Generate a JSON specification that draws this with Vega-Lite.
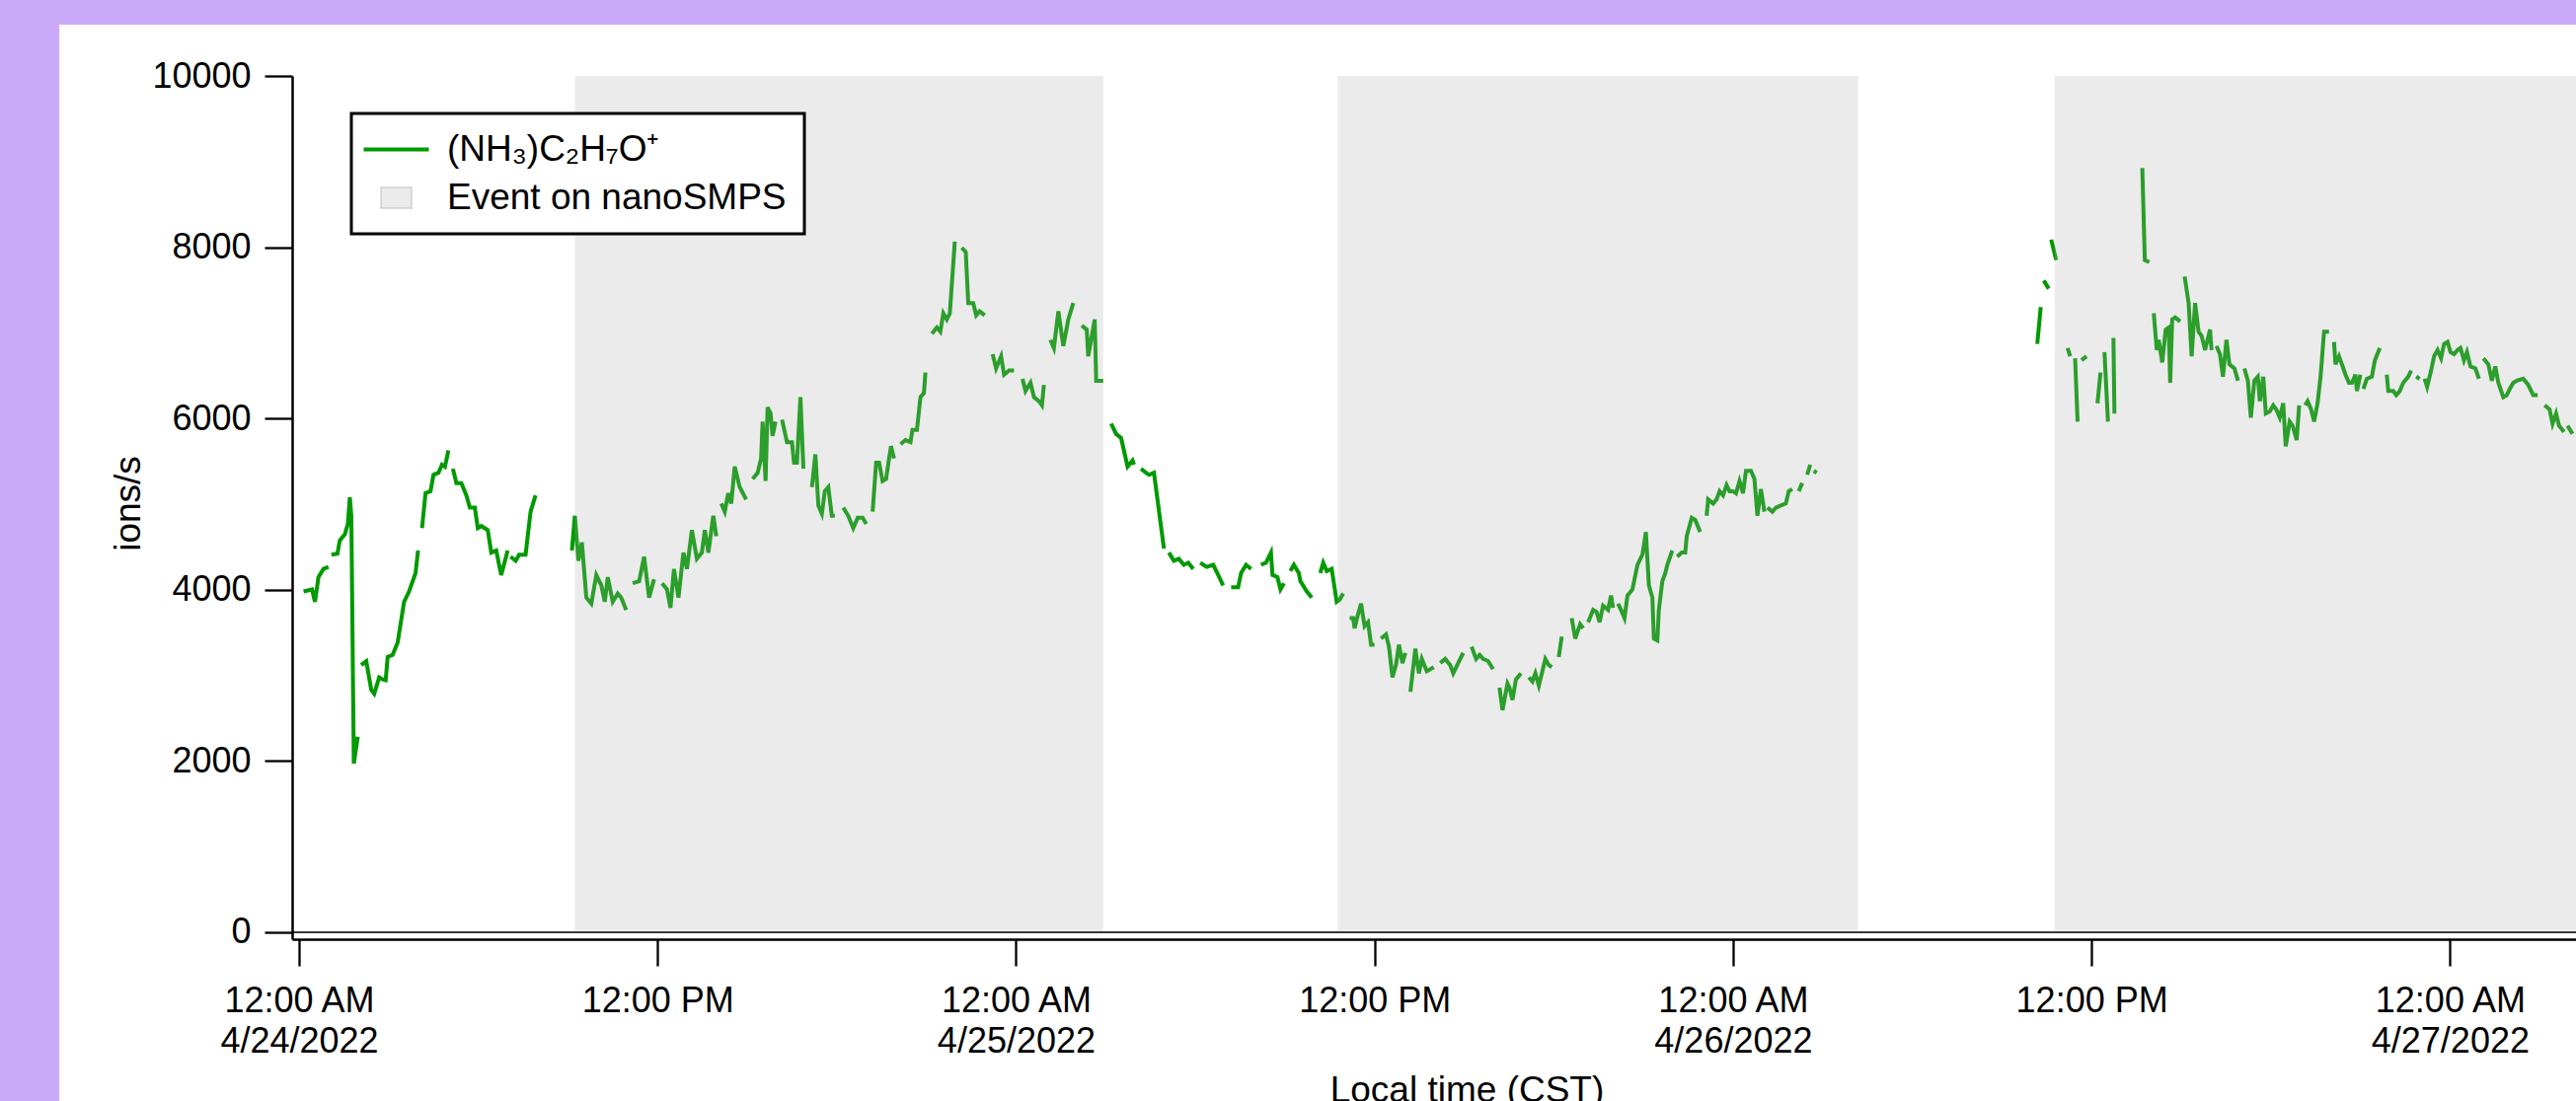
{
  "$schema": "https://vega.github.io/schema/vega-lite/v6.json",
  "background": "#cba9f9",
  "autosize": {"type": "none"},
  "padding": {"left": 296, "top": 77, "right": 0, "bottom": 164},
  "width": 2314,
  "height": 875,
  "datasets": {
    "events": [
      {"start": "2022-04-24T09:14", "end": "2022-04-25T02:55"},
      {"start": "2022-04-25T10:46", "end": "2022-04-26T04:11"},
      {"start": "2022-04-26T10:46", "end": "2022-04-27T12:00"}
    ],
    "ions": [
      {"t": "2022-04-24T00:09", "v": 3980, "g": 1},
      {"t": "2022-04-24T00:26", "v": 4004, "g": 1},
      {"t": "2022-04-24T00:32", "v": 3860, "g": 1},
      {"t": "2022-04-24T00:39", "v": 4147, "g": 1},
      {"t": "2022-04-24T00:49", "v": 4243, "g": 1},
      {"t": "2022-04-24T00:59", "v": 4267, "g": 1},
      {"t": "2022-04-24T01:05", "v": 4410, "g": 2},
      {"t": "2022-04-24T01:17", "v": 4420, "g": 2},
      {"t": "2022-04-24T01:22", "v": 4577, "g": 2},
      {"t": "2022-04-24T01:32", "v": 4649, "g": 2},
      {"t": "2022-04-24T01:38", "v": 4768, "g": 2},
      {"t": "2022-04-24T01:42", "v": 5079, "g": 2},
      {"t": "2022-04-24T01:45", "v": 4864, "g": 2},
      {"t": "2022-04-24T01:50", "v": 1971, "g": 2},
      {"t": "2022-04-24T01:58", "v": 2284, "g": 2},
      {"t": "2022-04-24T02:05", "v": 3120, "g": 3},
      {"t": "2022-04-24T02:15", "v": 3167, "g": 3},
      {"t": "2022-04-24T02:25", "v": 2833, "g": 3},
      {"t": "2022-04-24T02:31", "v": 2786, "g": 3},
      {"t": "2022-04-24T02:41", "v": 2977, "g": 3},
      {"t": "2022-04-24T02:48", "v": 2953, "g": 3},
      {"t": "2022-04-24T02:54", "v": 2943, "g": 3},
      {"t": "2022-04-24T02:58", "v": 3215, "g": 3},
      {"t": "2022-04-24T03:08", "v": 3239, "g": 3},
      {"t": "2022-04-24T03:18", "v": 3383, "g": 3},
      {"t": "2022-04-24T03:31", "v": 3860, "g": 3},
      {"t": "2022-04-24T03:41", "v": 3980, "g": 3},
      {"t": "2022-04-24T03:54", "v": 4195, "g": 3},
      {"t": "2022-04-24T03:59", "v": 4458, "g": 3},
      {"t": "2022-04-24T04:07", "v": 4720, "g": 4},
      {"t": "2022-04-24T04:14", "v": 5127, "g": 4},
      {"t": "2022-04-24T04:24", "v": 5150, "g": 4},
      {"t": "2022-04-24T04:30", "v": 5342, "g": 4},
      {"t": "2022-04-24T04:40", "v": 5366, "g": 4},
      {"t": "2022-04-24T04:47", "v": 5461, "g": 4},
      {"t": "2022-04-24T04:53", "v": 5437, "g": 4},
      {"t": "2022-04-24T05:00", "v": 5628, "g": 4},
      {"t": "2022-04-24T05:09", "v": 5413, "g": 5},
      {"t": "2022-04-24T05:16", "v": 5246, "g": 5},
      {"t": "2022-04-24T05:26", "v": 5246, "g": 5},
      {"t": "2022-04-24T05:36", "v": 5103, "g": 5},
      {"t": "2022-04-24T05:43", "v": 4959, "g": 5},
      {"t": "2022-04-24T05:53", "v": 4959, "g": 5},
      {"t": "2022-04-24T05:59", "v": 4720, "g": 5},
      {"t": "2022-04-24T06:06", "v": 4744, "g": 5},
      {"t": "2022-04-24T06:19", "v": 4697, "g": 5},
      {"t": "2022-04-24T06:26", "v": 4434, "g": 5},
      {"t": "2022-04-24T06:36", "v": 4458, "g": 5},
      {"t": "2022-04-24T06:46", "v": 4171, "g": 5},
      {"t": "2022-04-24T06:59", "v": 4458, "g": 5},
      {"t": "2022-04-24T07:05", "v": 4386, "g": 6},
      {"t": "2022-04-24T07:15", "v": 4338, "g": 6},
      {"t": "2022-04-24T07:22", "v": 4410, "g": 6},
      {"t": "2022-04-24T07:35", "v": 4410, "g": 6},
      {"t": "2022-04-24T07:45", "v": 4912, "g": 6},
      {"t": "2022-04-24T07:55", "v": 5103, "g": 6},
      {"t": "2022-04-24T09:08", "v": 4458, "g": 7},
      {"t": "2022-04-24T09:14", "v": 4864, "g": 7},
      {"t": "2022-04-24T09:21", "v": 4338, "g": 7},
      {"t": "2022-04-24T09:28", "v": 4553, "g": 7},
      {"t": "2022-04-24T09:37", "v": 3908, "g": 7},
      {"t": "2022-04-24T09:47", "v": 3837, "g": 7},
      {"t": "2022-04-24T09:57", "v": 4171, "g": 7},
      {"t": "2022-04-24T10:07", "v": 4052, "g": 7},
      {"t": "2022-04-24T10:14", "v": 3860, "g": 7},
      {"t": "2022-04-24T10:20", "v": 4147, "g": 7},
      {"t": "2022-04-24T10:30", "v": 3860, "g": 7},
      {"t": "2022-04-24T10:40", "v": 3956, "g": 7},
      {"t": "2022-04-24T10:47", "v": 3908, "g": 7},
      {"t": "2022-04-24T10:57", "v": 3765, "g": 7},
      {"t": "2022-04-24T11:10", "v": 4076, "g": 8},
      {"t": "2022-04-24T11:23", "v": 4100, "g": 8},
      {"t": "2022-04-24T11:33", "v": 4386, "g": 8},
      {"t": "2022-04-24T11:43", "v": 3908, "g": 8},
      {"t": "2022-04-24T11:53", "v": 4123, "g": 8},
      {"t": "2022-04-24T12:09", "v": 4076, "g": 9},
      {"t": "2022-04-24T12:19", "v": 4004, "g": 9},
      {"t": "2022-04-24T12:26", "v": 3789, "g": 9},
      {"t": "2022-04-24T12:33", "v": 4243, "g": 9},
      {"t": "2022-04-24T12:42", "v": 3908, "g": 9},
      {"t": "2022-04-24T12:52", "v": 4434, "g": 9},
      {"t": "2022-04-24T12:59", "v": 4243, "g": 9},
      {"t": "2022-04-24T13:09", "v": 4697, "g": 9},
      {"t": "2022-04-24T13:19", "v": 4362, "g": 9},
      {"t": "2022-04-24T13:29", "v": 4434, "g": 9},
      {"t": "2022-04-24T13:35", "v": 4697, "g": 9},
      {"t": "2022-04-24T13:42", "v": 4434, "g": 9},
      {"t": "2022-04-24T13:52", "v": 4864, "g": 9},
      {"t": "2022-04-24T13:58", "v": 4625, "g": 9},
      {"t": "2022-04-24T14:08", "v": 5007, "g": 10},
      {"t": "2022-04-24T14:15", "v": 4912, "g": 10},
      {"t": "2022-04-24T14:22", "v": 5127, "g": 10},
      {"t": "2022-04-24T14:28", "v": 5007, "g": 10},
      {"t": "2022-04-24T14:35", "v": 5437, "g": 10},
      {"t": "2022-04-24T14:45", "v": 5198, "g": 10},
      {"t": "2022-04-24T14:58", "v": 5055, "g": 10},
      {"t": "2022-04-24T15:11", "v": 5294, "g": 11},
      {"t": "2022-04-24T15:21", "v": 5366, "g": 11},
      {"t": "2022-04-24T15:28", "v": 5533, "g": 11},
      {"t": "2022-04-24T15:31", "v": 5963, "g": 11},
      {"t": "2022-04-24T15:37", "v": 5270, "g": 11},
      {"t": "2022-04-24T15:41", "v": 6130, "g": 11},
      {"t": "2022-04-24T15:47", "v": 6058, "g": 11},
      {"t": "2022-04-24T15:51", "v": 5796, "g": 11},
      {"t": "2022-04-24T15:57", "v": 5963, "g": 11},
      {"t": "2022-04-24T16:10", "v": 5987, "g": 12},
      {"t": "2022-04-24T16:20", "v": 5724, "g": 12},
      {"t": "2022-04-24T16:30", "v": 5724, "g": 12},
      {"t": "2022-04-24T16:34", "v": 5485, "g": 12},
      {"t": "2022-04-24T16:40", "v": 5485, "g": 12},
      {"t": "2022-04-24T16:47", "v": 6249, "g": 12},
      {"t": "2022-04-24T16:53", "v": 5413, "g": 12},
      {"t": "2022-04-24T17:10", "v": 5198, "g": 13},
      {"t": "2022-04-24T17:17", "v": 5581, "g": 13},
      {"t": "2022-04-24T17:23", "v": 4983, "g": 13},
      {"t": "2022-04-24T17:30", "v": 4888, "g": 13},
      {"t": "2022-04-24T17:36", "v": 5150, "g": 13},
      {"t": "2022-04-24T17:43", "v": 5198, "g": 13},
      {"t": "2022-04-24T17:50", "v": 4864, "g": 13},
      {"t": "2022-04-24T17:56", "v": 4864, "g": 13},
      {"t": "2022-04-24T18:13", "v": 4959, "g": 14},
      {"t": "2022-04-24T18:23", "v": 4864, "g": 14},
      {"t": "2022-04-24T18:33", "v": 4720, "g": 14},
      {"t": "2022-04-24T18:42", "v": 4840, "g": 14},
      {"t": "2022-04-24T18:52", "v": 4840, "g": 14},
      {"t": "2022-04-24T18:59", "v": 4768, "g": 14},
      {"t": "2022-04-24T19:12", "v": 4912, "g": 15},
      {"t": "2022-04-24T19:19", "v": 5485, "g": 15},
      {"t": "2022-04-24T19:25", "v": 5485, "g": 15},
      {"t": "2022-04-24T19:32", "v": 5270, "g": 15},
      {"t": "2022-04-24T19:39", "v": 5294, "g": 15},
      {"t": "2022-04-24T19:45", "v": 5533, "g": 15},
      {"t": "2022-04-24T19:49", "v": 5676, "g": 15},
      {"t": "2022-04-24T19:55", "v": 5533, "g": 15},
      {"t": "2022-04-24T20:08", "v": 5700, "g": 16},
      {"t": "2022-04-24T20:18", "v": 5748, "g": 16},
      {"t": "2022-04-24T20:28", "v": 5724, "g": 16},
      {"t": "2022-04-24T20:32", "v": 5867, "g": 16},
      {"t": "2022-04-24T20:41", "v": 5867, "g": 16},
      {"t": "2022-04-24T20:48", "v": 6249, "g": 16},
      {"t": "2022-04-24T20:55", "v": 6297, "g": 16},
      {"t": "2022-04-24T20:58", "v": 6536, "g": 16},
      {"t": "2022-04-24T21:11", "v": 6990, "g": 17},
      {"t": "2022-04-24T21:21", "v": 7062, "g": 17},
      {"t": "2022-04-24T21:28", "v": 7014, "g": 17},
      {"t": "2022-04-24T21:34", "v": 7229, "g": 17},
      {"t": "2022-04-24T21:41", "v": 7157, "g": 17},
      {"t": "2022-04-24T21:47", "v": 7229, "g": 17},
      {"t": "2022-04-24T21:57", "v": 8065, "g": 17},
      {"t": "2022-04-24T22:11", "v": 7993, "g": 18},
      {"t": "2022-04-24T22:19", "v": 7946, "g": 18},
      {"t": "2022-04-24T22:24", "v": 7348, "g": 18},
      {"t": "2022-04-24T22:34", "v": 7348, "g": 18},
      {"t": "2022-04-24T22:40", "v": 7205, "g": 18},
      {"t": "2022-04-24T22:47", "v": 7253, "g": 18},
      {"t": "2022-04-24T22:57", "v": 7205, "g": 18},
      {"t": "2022-04-24T23:13", "v": 6751, "g": 19},
      {"t": "2022-04-24T23:20", "v": 6584, "g": 19},
      {"t": "2022-04-24T23:30", "v": 6727, "g": 19},
      {"t": "2022-04-24T23:36", "v": 6512, "g": 19},
      {"t": "2022-04-24T23:46", "v": 6560, "g": 19},
      {"t": "2022-04-24T23:56", "v": 6560, "g": 19},
      {"t": "2022-04-25T00:13", "v": 6464, "g": 20},
      {"t": "2022-04-25T00:19", "v": 6321, "g": 20},
      {"t": "2022-04-25T00:29", "v": 6417, "g": 20},
      {"t": "2022-04-25T00:36", "v": 6249, "g": 20},
      {"t": "2022-04-25T00:46", "v": 6202, "g": 20},
      {"t": "2022-04-25T00:52", "v": 6154, "g": 20},
      {"t": "2022-04-25T00:56", "v": 6393, "g": 20},
      {"t": "2022-04-25T01:09", "v": 6918, "g": 21},
      {"t": "2022-04-25T01:16", "v": 6823, "g": 21},
      {"t": "2022-04-25T01:25", "v": 7253, "g": 21},
      {"t": "2022-04-25T01:35", "v": 6847, "g": 21},
      {"t": "2022-04-25T01:45", "v": 7157, "g": 21},
      {"t": "2022-04-25T01:55", "v": 7348, "g": 21},
      {"t": "2022-04-25T02:12", "v": 7086, "g": 22},
      {"t": "2022-04-25T02:22", "v": 7038, "g": 22},
      {"t": "2022-04-25T02:25", "v": 6727, "g": 22},
      {"t": "2022-04-25T02:38", "v": 7157, "g": 22},
      {"t": "2022-04-25T02:41", "v": 6440, "g": 22},
      {"t": "2022-04-25T02:55", "v": 6440, "g": 22},
      {"t": "2022-04-25T03:11", "v": 5939, "g": 23},
      {"t": "2022-04-25T03:21", "v": 5819, "g": 23},
      {"t": "2022-04-25T03:31", "v": 5772, "g": 23},
      {"t": "2022-04-25T03:44", "v": 5437, "g": 23},
      {"t": "2022-04-25T03:54", "v": 5509, "g": 23},
      {"t": "2022-04-25T03:57", "v": 5461, "g": 23},
      {"t": "2022-04-25T04:11", "v": 5413, "g": 24},
      {"t": "2022-04-25T04:21", "v": 5366, "g": 24},
      {"t": "2022-04-25T04:27", "v": 5342, "g": 24},
      {"t": "2022-04-25T04:37", "v": 5366, "g": 24},
      {"t": "2022-04-25T04:57", "v": 4482, "g": 24},
      {"t": "2022-04-25T05:07", "v": 4434, "g": 25},
      {"t": "2022-04-25T05:17", "v": 4338, "g": 25},
      {"t": "2022-04-25T05:27", "v": 4362, "g": 25},
      {"t": "2022-04-25T05:37", "v": 4291, "g": 25},
      {"t": "2022-04-25T05:46", "v": 4315, "g": 25},
      {"t": "2022-04-25T05:56", "v": 4243, "g": 25},
      {"t": "2022-04-25T06:10", "v": 4315, "g": 26},
      {"t": "2022-04-25T06:23", "v": 4267, "g": 26},
      {"t": "2022-04-25T06:36", "v": 4291, "g": 26},
      {"t": "2022-04-25T06:46", "v": 4171, "g": 26},
      {"t": "2022-04-25T06:56", "v": 4052, "g": 26},
      {"t": "2022-04-25T07:12", "v": 4028, "g": 27},
      {"t": "2022-04-25T07:26", "v": 4028, "g": 27},
      {"t": "2022-04-25T07:32", "v": 4195, "g": 27},
      {"t": "2022-04-25T07:42", "v": 4291, "g": 27},
      {"t": "2022-04-25T07:52", "v": 4243, "g": 27},
      {"t": "2022-04-25T08:12", "v": 4291, "g": 28},
      {"t": "2022-04-25T08:22", "v": 4315, "g": 28},
      {"t": "2022-04-25T08:32", "v": 4434, "g": 28},
      {"t": "2022-04-25T08:35", "v": 4171, "g": 28},
      {"t": "2022-04-25T08:45", "v": 4147, "g": 28},
      {"t": "2022-04-25T08:51", "v": 4004, "g": 28},
      {"t": "2022-04-25T08:58", "v": 4076, "g": 28},
      {"t": "2022-04-25T09:11", "v": 4219, "g": 29},
      {"t": "2022-04-25T09:18", "v": 4291, "g": 29},
      {"t": "2022-04-25T09:28", "v": 4195, "g": 29},
      {"t": "2022-04-25T09:31", "v": 4100, "g": 29},
      {"t": "2022-04-25T09:44", "v": 3980, "g": 29},
      {"t": "2022-04-25T09:54", "v": 3908, "g": 29},
      {"t": "2022-04-25T10:11", "v": 4195, "g": 30},
      {"t": "2022-04-25T10:17", "v": 4315, "g": 30},
      {"t": "2022-04-25T10:24", "v": 4219, "g": 30},
      {"t": "2022-04-25T10:34", "v": 4243, "g": 30},
      {"t": "2022-04-25T10:44", "v": 3860, "g": 30},
      {"t": "2022-04-25T10:50", "v": 3884, "g": 30},
      {"t": "2022-04-25T10:57", "v": 3956, "g": 30},
      {"t": "2022-04-25T11:10", "v": 3669, "g": 31},
      {"t": "2022-04-25T11:17", "v": 3669, "g": 31},
      {"t": "2022-04-25T11:20", "v": 3550, "g": 31},
      {"t": "2022-04-25T11:27", "v": 3717, "g": 31},
      {"t": "2022-04-25T11:33", "v": 3837, "g": 31},
      {"t": "2022-04-25T11:40", "v": 3574, "g": 31},
      {"t": "2022-04-25T11:47", "v": 3621, "g": 31},
      {"t": "2022-04-25T11:53", "v": 3359, "g": 31},
      {"t": "2022-04-25T12:00", "v": 3359, "g": 31},
      {"t": "2022-04-25T12:13", "v": 3430, "g": 32},
      {"t": "2022-04-25T12:23", "v": 3478, "g": 32},
      {"t": "2022-04-25T12:29", "v": 3335, "g": 32},
      {"t": "2022-04-25T12:36", "v": 2977, "g": 32},
      {"t": "2022-04-25T12:43", "v": 3120, "g": 32},
      {"t": "2022-04-25T12:49", "v": 3359, "g": 32},
      {"t": "2022-04-25T12:56", "v": 3144, "g": 32},
      {"t": "2022-04-25T13:02", "v": 3263, "g": 32},
      {"t": "2022-04-25T13:12", "v": 2809, "g": 33},
      {"t": "2022-04-25T13:22", "v": 3311, "g": 33},
      {"t": "2022-04-25T13:29", "v": 3024, "g": 33},
      {"t": "2022-04-25T13:35", "v": 3192, "g": 33},
      {"t": "2022-04-25T13:45", "v": 3048, "g": 33},
      {"t": "2022-04-25T13:59", "v": 3096, "g": 33},
      {"t": "2022-04-25T14:12", "v": 3144, "g": 34},
      {"t": "2022-04-25T14:22", "v": 3192, "g": 34},
      {"t": "2022-04-25T14:32", "v": 3120, "g": 34},
      {"t": "2022-04-25T14:38", "v": 3024, "g": 34},
      {"t": "2022-04-25T14:48", "v": 3144, "g": 34},
      {"t": "2022-04-25T14:58", "v": 3263, "g": 34},
      {"t": "2022-04-25T15:15", "v": 3335, "g": 35},
      {"t": "2022-04-25T15:21", "v": 3239, "g": 35},
      {"t": "2022-04-25T15:24", "v": 3192, "g": 35},
      {"t": "2022-04-25T15:31", "v": 3239, "g": 35},
      {"t": "2022-04-25T15:38", "v": 3192, "g": 35},
      {"t": "2022-04-25T15:48", "v": 3168, "g": 35},
      {"t": "2022-04-25T15:58", "v": 3072, "g": 35},
      {"t": "2022-04-25T16:11", "v": 2857, "g": 36},
      {"t": "2022-04-25T16:17", "v": 2594, "g": 36},
      {"t": "2022-04-25T16:27", "v": 2905, "g": 36},
      {"t": "2022-04-25T16:31", "v": 2857, "g": 36},
      {"t": "2022-04-25T16:37", "v": 2714, "g": 36},
      {"t": "2022-04-25T16:44", "v": 2953, "g": 36},
      {"t": "2022-04-25T16:54", "v": 3024, "g": 36},
      {"t": "2022-04-25T17:10", "v": 2977, "g": 37},
      {"t": "2022-04-25T17:17", "v": 2929, "g": 37},
      {"t": "2022-04-25T17:23", "v": 3024, "g": 37},
      {"t": "2022-04-25T17:30", "v": 2881, "g": 37},
      {"t": "2022-04-25T17:37", "v": 3048, "g": 37},
      {"t": "2022-04-25T17:43", "v": 3192, "g": 37},
      {"t": "2022-04-25T17:50", "v": 3120, "g": 37},
      {"t": "2022-04-25T17:56", "v": 3096, "g": 37},
      {"t": "2022-04-25T18:10", "v": 3215, "g": 38},
      {"t": "2022-04-25T18:16", "v": 3454, "g": 38},
      {"t": "2022-04-25T18:36", "v": 3669, "g": 39},
      {"t": "2022-04-25T18:43", "v": 3430, "g": 39},
      {"t": "2022-04-25T18:53", "v": 3598, "g": 39},
      {"t": "2022-04-25T18:59", "v": 3550, "g": 39},
      {"t": "2022-04-25T19:09", "v": 3621, "g": 40},
      {"t": "2022-04-25T19:19", "v": 3765, "g": 40},
      {"t": "2022-04-25T19:26", "v": 3741, "g": 40},
      {"t": "2022-04-25T19:32", "v": 3621, "g": 40},
      {"t": "2022-04-25T19:39", "v": 3813, "g": 40},
      {"t": "2022-04-25T19:49", "v": 3765, "g": 40},
      {"t": "2022-04-25T19:55", "v": 3932, "g": 40},
      {"t": "2022-04-25T19:59", "v": 3789, "g": 40},
      {"t": "2022-04-25T20:09", "v": 3837, "g": 41},
      {"t": "2022-04-25T20:15", "v": 3765, "g": 41},
      {"t": "2022-04-25T20:22", "v": 3669, "g": 41},
      {"t": "2022-04-25T20:28", "v": 3932, "g": 41},
      {"t": "2022-04-25T20:38", "v": 4004, "g": 41},
      {"t": "2022-04-25T20:48", "v": 4291, "g": 41},
      {"t": "2022-04-25T20:58", "v": 4410, "g": 41},
      {"t": "2022-04-25T21:05", "v": 4673, "g": 41},
      {"t": "2022-04-25T21:11", "v": 4052, "g": 41},
      {"t": "2022-04-25T21:18", "v": 3908, "g": 41},
      {"t": "2022-04-25T21:21", "v": 3430, "g": 41},
      {"t": "2022-04-25T21:28", "v": 3407, "g": 41},
      {"t": "2022-04-25T21:31", "v": 3765, "g": 41},
      {"t": "2022-04-25T21:38", "v": 4100, "g": 41},
      {"t": "2022-04-25T21:44", "v": 4195, "g": 41},
      {"t": "2022-04-25T21:48", "v": 4291, "g": 41},
      {"t": "2022-04-25T21:58", "v": 4458, "g": 41},
      {"t": "2022-04-25T22:08", "v": 4386, "g": 42},
      {"t": "2022-04-25T22:17", "v": 4434, "g": 42},
      {"t": "2022-04-25T22:24", "v": 4434, "g": 42},
      {"t": "2022-04-25T22:27", "v": 4625, "g": 42},
      {"t": "2022-04-25T22:37", "v": 4840, "g": 42},
      {"t": "2022-04-25T22:44", "v": 4816, "g": 42},
      {"t": "2022-04-25T22:54", "v": 4673, "g": 42},
      {"t": "2022-04-25T23:07", "v": 4864, "g": 43},
      {"t": "2022-04-25T23:10", "v": 5055, "g": 43},
      {"t": "2022-04-25T23:20", "v": 5007, "g": 43},
      {"t": "2022-04-25T23:27", "v": 5055, "g": 43},
      {"t": "2022-04-25T23:33", "v": 5151, "g": 43},
      {"t": "2022-04-25T23:40", "v": 5103, "g": 43},
      {"t": "2022-04-25T23:47", "v": 5222, "g": 43},
      {"t": "2022-04-25T23:53", "v": 5151, "g": 43},
      {"t": "2022-04-26T00:00", "v": 5151, "g": 43},
      {"t": "2022-04-26T00:06", "v": 5127, "g": 43},
      {"t": "2022-04-26T00:13", "v": 5270, "g": 43},
      {"t": "2022-04-26T00:20", "v": 5127, "g": 43},
      {"t": "2022-04-26T00:26", "v": 5390, "g": 43},
      {"t": "2022-04-26T00:36", "v": 5390, "g": 43},
      {"t": "2022-04-26T00:43", "v": 5294, "g": 43},
      {"t": "2022-04-26T00:49", "v": 4864, "g": 43},
      {"t": "2022-04-26T00:56", "v": 5174, "g": 43},
      {"t": "2022-04-26T01:03", "v": 4912, "g": 43},
      {"t": "2022-04-26T01:09", "v": 4959, "g": 44},
      {"t": "2022-04-26T01:19", "v": 4912, "g": 44},
      {"t": "2022-04-26T01:26", "v": 4959, "g": 44},
      {"t": "2022-04-26T01:36", "v": 4983, "g": 44},
      {"t": "2022-04-26T01:46", "v": 5007, "g": 44},
      {"t": "2022-04-26T01:52", "v": 5151, "g": 44},
      {"t": "2022-04-26T01:59", "v": 5174, "g": 44},
      {"t": "2022-04-26T02:12", "v": 5151, "g": 45},
      {"t": "2022-04-26T02:19", "v": 5246, "g": 45},
      {"t": "2022-04-26T02:29", "v": 5342, "g": 46},
      {"t": "2022-04-26T02:35", "v": 5461, "g": 46},
      {"t": "2022-04-26T02:42", "v": 5389, "g": 47},
      {"t": "2022-04-26T02:48", "v": 5366, "g": 47},
      {"t": "2022-04-26T10:11", "v": 6871, "g": 48},
      {"t": "2022-04-26T10:18", "v": 7301, "g": 48},
      {"t": "2022-04-26T10:24", "v": 7611, "g": 49},
      {"t": "2022-04-26T10:34", "v": 7516, "g": 49},
      {"t": "2022-04-26T10:39", "v": 8089, "g": 50},
      {"t": "2022-04-26T10:49", "v": 7850, "g": 50},
      {"t": "2022-04-26T11:12", "v": 6823, "g": 51},
      {"t": "2022-04-26T11:17", "v": 6727, "g": 51},
      {"t": "2022-04-26T11:27", "v": 6703, "g": 52},
      {"t": "2022-04-26T11:32", "v": 5963, "g": 52},
      {"t": "2022-04-26T11:40", "v": 6680, "g": 53},
      {"t": "2022-04-26T11:50", "v": 6727, "g": 53},
      {"t": "2022-04-26T12:12", "v": 6178, "g": 54},
      {"t": "2022-04-26T12:18", "v": 6536, "g": 54},
      {"t": "2022-04-26T12:26", "v": 6775, "g": 55},
      {"t": "2022-04-26T12:33", "v": 5963, "g": 55},
      {"t": "2022-04-26T12:44", "v": 6942, "g": 56},
      {"t": "2022-04-26T12:46", "v": 6058, "g": 56},
      {"t": "2022-04-26T13:42", "v": 8925, "g": 57},
      {"t": "2022-04-26T13:47", "v": 7850, "g": 57},
      {"t": "2022-04-26T13:56", "v": 7826, "g": 57},
      {"t": "2022-04-26T14:05", "v": 7229, "g": 58},
      {"t": "2022-04-26T14:11", "v": 6799, "g": 58},
      {"t": "2022-04-26T14:15", "v": 6918, "g": 58},
      {"t": "2022-04-26T14:22", "v": 6655, "g": 58},
      {"t": "2022-04-26T14:29", "v": 7038, "g": 58},
      {"t": "2022-04-26T14:35", "v": 7062, "g": 58},
      {"t": "2022-04-26T14:38", "v": 6417, "g": 58},
      {"t": "2022-04-26T14:42", "v": 7157, "g": 58},
      {"t": "2022-04-26T14:48", "v": 7181, "g": 58},
      {"t": "2022-04-26T14:58", "v": 7133, "g": 58},
      {"t": "2022-04-26T15:07", "v": 7659, "g": 59},
      {"t": "2022-04-26T15:15", "v": 7348, "g": 59},
      {"t": "2022-04-26T15:21", "v": 6727, "g": 59},
      {"t": "2022-04-26T15:28", "v": 7348, "g": 59},
      {"t": "2022-04-26T15:35", "v": 7014, "g": 59},
      {"t": "2022-04-26T15:41", "v": 6966, "g": 59},
      {"t": "2022-04-26T15:48", "v": 6799, "g": 59},
      {"t": "2022-04-26T15:58", "v": 7038, "g": 59},
      {"t": "2022-04-26T16:01", "v": 6799, "g": 59},
      {"t": "2022-04-26T16:11", "v": 6847, "g": 60},
      {"t": "2022-04-26T16:18", "v": 6751, "g": 60},
      {"t": "2022-04-26T16:24", "v": 6488, "g": 60},
      {"t": "2022-04-26T16:31", "v": 6918, "g": 60},
      {"t": "2022-04-26T16:37", "v": 6632, "g": 60},
      {"t": "2022-04-26T16:47", "v": 6584, "g": 60},
      {"t": "2022-04-26T16:54", "v": 6441, "g": 60},
      {"t": "2022-04-26T17:07", "v": 6584, "g": 61},
      {"t": "2022-04-26T17:14", "v": 6441, "g": 61},
      {"t": "2022-04-26T17:20", "v": 6011, "g": 61},
      {"t": "2022-04-26T17:27", "v": 6441, "g": 61},
      {"t": "2022-04-26T17:34", "v": 6488, "g": 61},
      {"t": "2022-04-26T17:38", "v": 6202, "g": 61},
      {"t": "2022-04-26T17:45", "v": 6488, "g": 61},
      {"t": "2022-04-26T17:50", "v": 6058, "g": 61},
      {"t": "2022-04-26T17:58", "v": 6082, "g": 61},
      {"t": "2022-04-26T18:05", "v": 6154, "g": 61},
      {"t": "2022-04-26T18:11", "v": 6106, "g": 61},
      {"t": "2022-04-26T18:18", "v": 6011, "g": 61},
      {"t": "2022-04-26T18:25", "v": 6178, "g": 61},
      {"t": "2022-04-26T18:30", "v": 5676, "g": 61},
      {"t": "2022-04-26T18:38", "v": 5963, "g": 61},
      {"t": "2022-04-26T18:44", "v": 5915, "g": 61},
      {"t": "2022-04-26T18:52", "v": 5748, "g": 61},
      {"t": "2022-04-26T18:57", "v": 6154, "g": 61},
      {"t": "2022-04-26T19:09", "v": 6154, "g": 62},
      {"t": "2022-04-26T19:14", "v": 6202, "g": 62},
      {"t": "2022-04-26T19:21", "v": 6106, "g": 62},
      {"t": "2022-04-26T19:27", "v": 5963, "g": 62},
      {"t": "2022-04-26T19:34", "v": 6178, "g": 62},
      {"t": "2022-04-26T19:40", "v": 6488, "g": 62},
      {"t": "2022-04-26T19:47", "v": 7014, "g": 62},
      {"t": "2022-04-26T19:57", "v": 7014, "g": 62},
      {"t": "2022-04-26T20:07", "v": 6894, "g": 63},
      {"t": "2022-04-26T20:10", "v": 6632, "g": 63},
      {"t": "2022-04-26T20:17", "v": 6727, "g": 63},
      {"t": "2022-04-26T20:23", "v": 6632, "g": 63},
      {"t": "2022-04-26T20:30", "v": 6512, "g": 63},
      {"t": "2022-04-26T20:37", "v": 6417, "g": 63},
      {"t": "2022-04-26T20:43", "v": 6417, "g": 63},
      {"t": "2022-04-26T20:50", "v": 6512, "g": 63},
      {"t": "2022-04-26T20:53", "v": 6321, "g": 63},
      {"t": "2022-04-26T21:00", "v": 6512, "g": 63},
      {"t": "2022-04-26T21:06", "v": 6345, "g": 64},
      {"t": "2022-04-26T21:13", "v": 6464, "g": 64},
      {"t": "2022-04-26T21:23", "v": 6488, "g": 64},
      {"t": "2022-04-26T21:29", "v": 6679, "g": 64},
      {"t": "2022-04-26T21:39", "v": 6823, "g": 64},
      {"t": "2022-04-26T21:53", "v": 6512, "g": 65},
      {"t": "2022-04-26T21:56", "v": 6321, "g": 65},
      {"t": "2022-04-26T22:06", "v": 6321, "g": 65},
      {"t": "2022-04-26T22:12", "v": 6273, "g": 65},
      {"t": "2022-04-26T22:19", "v": 6321, "g": 65},
      {"t": "2022-04-26T22:26", "v": 6417, "g": 65},
      {"t": "2022-04-26T22:36", "v": 6488, "g": 65},
      {"t": "2022-04-26T22:42", "v": 6560, "g": 65},
      {"t": "2022-04-26T22:52", "v": 6488, "g": 66},
      {"t": "2022-04-26T22:59", "v": 6464, "g": 66},
      {"t": "2022-04-26T23:09", "v": 6464, "g": 67},
      {"t": "2022-04-26T23:14", "v": 6369, "g": 67},
      {"t": "2022-04-26T23:22", "v": 6560, "g": 67},
      {"t": "2022-04-26T23:28", "v": 6727, "g": 67},
      {"t": "2022-04-26T23:35", "v": 6799, "g": 67},
      {"t": "2022-04-26T23:42", "v": 6703, "g": 67},
      {"t": "2022-04-26T23:48", "v": 6870, "g": 67},
      {"t": "2022-04-26T23:55", "v": 6894, "g": 67},
      {"t": "2022-04-27T00:01", "v": 6775, "g": 67},
      {"t": "2022-04-27T00:08", "v": 6751, "g": 67},
      {"t": "2022-04-27T00:15", "v": 6799, "g": 67},
      {"t": "2022-04-27T00:21", "v": 6823, "g": 67},
      {"t": "2022-04-27T00:28", "v": 6679, "g": 67},
      {"t": "2022-04-27T00:34", "v": 6775, "g": 67},
      {"t": "2022-04-27T00:41", "v": 6608, "g": 67},
      {"t": "2022-04-27T00:51", "v": 6584, "g": 67},
      {"t": "2022-04-27T00:58", "v": 6464, "g": 67},
      {"t": "2022-04-27T01:07", "v": 6703, "g": 68},
      {"t": "2022-04-27T01:17", "v": 6632, "g": 68},
      {"t": "2022-04-27T01:24", "v": 6441, "g": 68},
      {"t": "2022-04-27T01:31", "v": 6608, "g": 68},
      {"t": "2022-04-27T01:37", "v": 6417, "g": 68},
      {"t": "2022-04-27T01:47", "v": 6249, "g": 68},
      {"t": "2022-04-27T01:54", "v": 6273, "g": 68},
      {"t": "2022-04-27T02:00", "v": 6345, "g": 68},
      {"t": "2022-04-27T02:07", "v": 6417, "g": 68},
      {"t": "2022-04-27T02:14", "v": 6441, "g": 68},
      {"t": "2022-04-27T02:27", "v": 6464, "g": 68},
      {"t": "2022-04-27T02:37", "v": 6393, "g": 68},
      {"t": "2022-04-27T02:47", "v": 6273, "g": 68},
      {"t": "2022-04-27T02:56", "v": 6273, "g": 68},
      {"t": "2022-04-27T03:10", "v": 6154, "g": 69},
      {"t": "2022-04-27T03:20", "v": 6106, "g": 69},
      {"t": "2022-04-27T03:26", "v": 5939, "g": 69},
      {"t": "2022-04-27T03:33", "v": 6058, "g": 69},
      {"t": "2022-04-27T03:39", "v": 5915, "g": 69},
      {"t": "2022-04-27T03:49", "v": 5843, "g": 69},
      {"t": "2022-04-27T03:56", "v": 5915, "g": 70},
      {"t": "2022-04-27T04:06", "v": 5820, "g": 70}
    ]
  },
  "layer": [
    {
      "description": "White figure panel behind the axes and plot",
      "data": {"values": [{}]},
      "mark": {"type": "rect", "fill": "white", "clip": false},
      "encoding": {
        "x": {"datum": {"year": 2022, "month": 4, "date": 23, "hours": 15, "minutes": 58, "seconds": 24}, "type": "temporal"},
        "x2": {"datum": {"year": 2022, "month": 4, "date": 28, "hours": 0}},
        "y": {"datum": 10599, "type": "quantitative"},
        "y2": {"datum": -6000}
      }
    },
    {
      "data": {"name": "ions"},
      "mark": {"type": "line", "strokeWidth": 4, "strokeJoin": "miter", "strokeCap": "butt"},
      "encoding": {
        "x": {
          "field": "t",
          "type": "temporal",
          "scale": {
            "domain": [
              {"year": 2022, "month": 4, "date": 23, "hours": 23, "minutes": 46, "seconds": 8},
              {"year": 2022, "month": 4, "date": 27, "hours": 4, "minutes": 13}
            ]
          },
          "axis": {
            "zindex": 2,
            "values": [
              {"year": 2022, "month": 4, "date": 24, "hours": 0},
              {"year": 2022, "month": 4, "date": 24, "hours": 12},
              {"year": 2022, "month": 4, "date": 25, "hours": 0},
              {"year": 2022, "month": 4, "date": 25, "hours": 12},
              {"year": 2022, "month": 4, "date": 26, "hours": 0},
              {"year": 2022, "month": 4, "date": 26, "hours": 12},
              {"year": 2022, "month": 4, "date": 27, "hours": 0}
            ],
            "labelExpr": "hours(datum.value) === 0 ? [timeFormat(datum.value, '%I:%M %p'), timeFormat(datum.value, '%-m/%-d/%Y')] : timeFormat(datum.value, '%I:%M %p')",
            "title": "Local time (CST)",
            "titleX": 1190,
            "titleY": 164,
            "titleAlign": "center",
            "titleBaseline": "alphabetic",
            "tickSize": 27,
            "labelPadding": 18,
            "labelLineHeight": 41,
            "labelBaseline": "top"
          }
        },
        "y": {
          "field": "v",
          "type": "quantitative",
          "scale": {"domain": [-81, 10000], "nice": false, "zero": false},
          "axis": {
            "zindex": 2,
            "values": [0, 2000, 4000, 6000, 8000, 10000],
            "format": "d",
            "title": "ions/s",
            "titleX": -155,
            "titleY": 433,
            "titleAngle": -90,
            "titleAlign": "center",
            "titleBaseline": "alphabetic",
            "tickSize": 28,
            "labelPadding": 14
          }
        },
        "detail": {"field": "g", "type": "nominal"},
        "color": {
          "datum": "(NH₃)C₂H₇O⁺",
          "scale": {
            "domain": ["(NH₃)C₂H₇O⁺", "Event on nanoSMPS"],
            "range": ["#009900", "#b0b0b0"]
          },
          "legend": {
            "orient": "none",
            "legendX": 60,
            "legendY": 38,
            "title": null,
            "padding": 18,
            "symbolSize": 4356,
            "symbolStrokeWidth": 4,
            "symbolOffset": 9,
            "labelOffset": 33,
            "rowPadding": 11,
            "encode": {
              "symbols": {
                "update": {
                  "shape": {"signal": "datum.value === 'Event on nanoSMPS' ? 'M-1,-0.68H1V0.68H-1Z' : 'M-1,0H1'"},
                  "size": {"signal": "datum.value === 'Event on nanoSMPS' ? 961 : 4356"},
                  "fillOpacity": {"signal": "datum.value === 'Event on nanoSMPS' ? 0.25 : 0"},
                  "strokeOpacity": {"signal": "datum.value === 'Event on nanoSMPS' ? 0.4 : 1"},
                  "strokeWidth": {"signal": "datum.value === 'Event on nanoSMPS' ? 2 : 4"}
                }
              }
            }
          }
        }
      }
    },
    {
      "data": {"name": "events"},
      "mark": {"type": "rect", "fillOpacity": 0.25, "strokeWidth": 0},
      "encoding": {
        "x": {"field": "start", "type": "temporal"},
        "x2": {"field": "end"},
        "y": {"datum": 0, "type": "quantitative"},
        "y2": {"datum": 10000},
        "color": {"datum": "Event on nanoSMPS"}
      }
    },
    {
      "description": "Zero line",
      "data": {"values": [{}]},
      "mark": {"type": "rule", "color": "#3a3a3a", "strokeWidth": 2},
      "encoding": {"y": {"datum": 0, "type": "quantitative"}}
    }
  ],
  "config": {
    "view": {"stroke": null},
    "font": "Liberation Sans",
    "axis": {
      "grid": false,
      "domainColor": "black",
      "domainWidth": 2.5,
      "tickColor": "black",
      "tickWidth": 2.3,
      "labelFont": "Liberation Sans",
      "labelFontSize": 36,
      "labelColor": "black",
      "labelFlush": false,
      "labelOverlap": false,
      "labelBound": false,
      "titleFont": "Liberation Sans",
      "titleFontSize": 37,
      "titleFontWeight": "normal",
      "titleColor": "black"
    },
    "legend": {
      "labelFont": "Liberation Sans",
      "labelFontSize": 37,
      "labelColor": "black",
      "labelLimit": 0,
      "strokeColor": "black",
      "strokeWidth": 3,
      "fillColor": "white",
      "cornerRadius": 0
    }
  }
}
